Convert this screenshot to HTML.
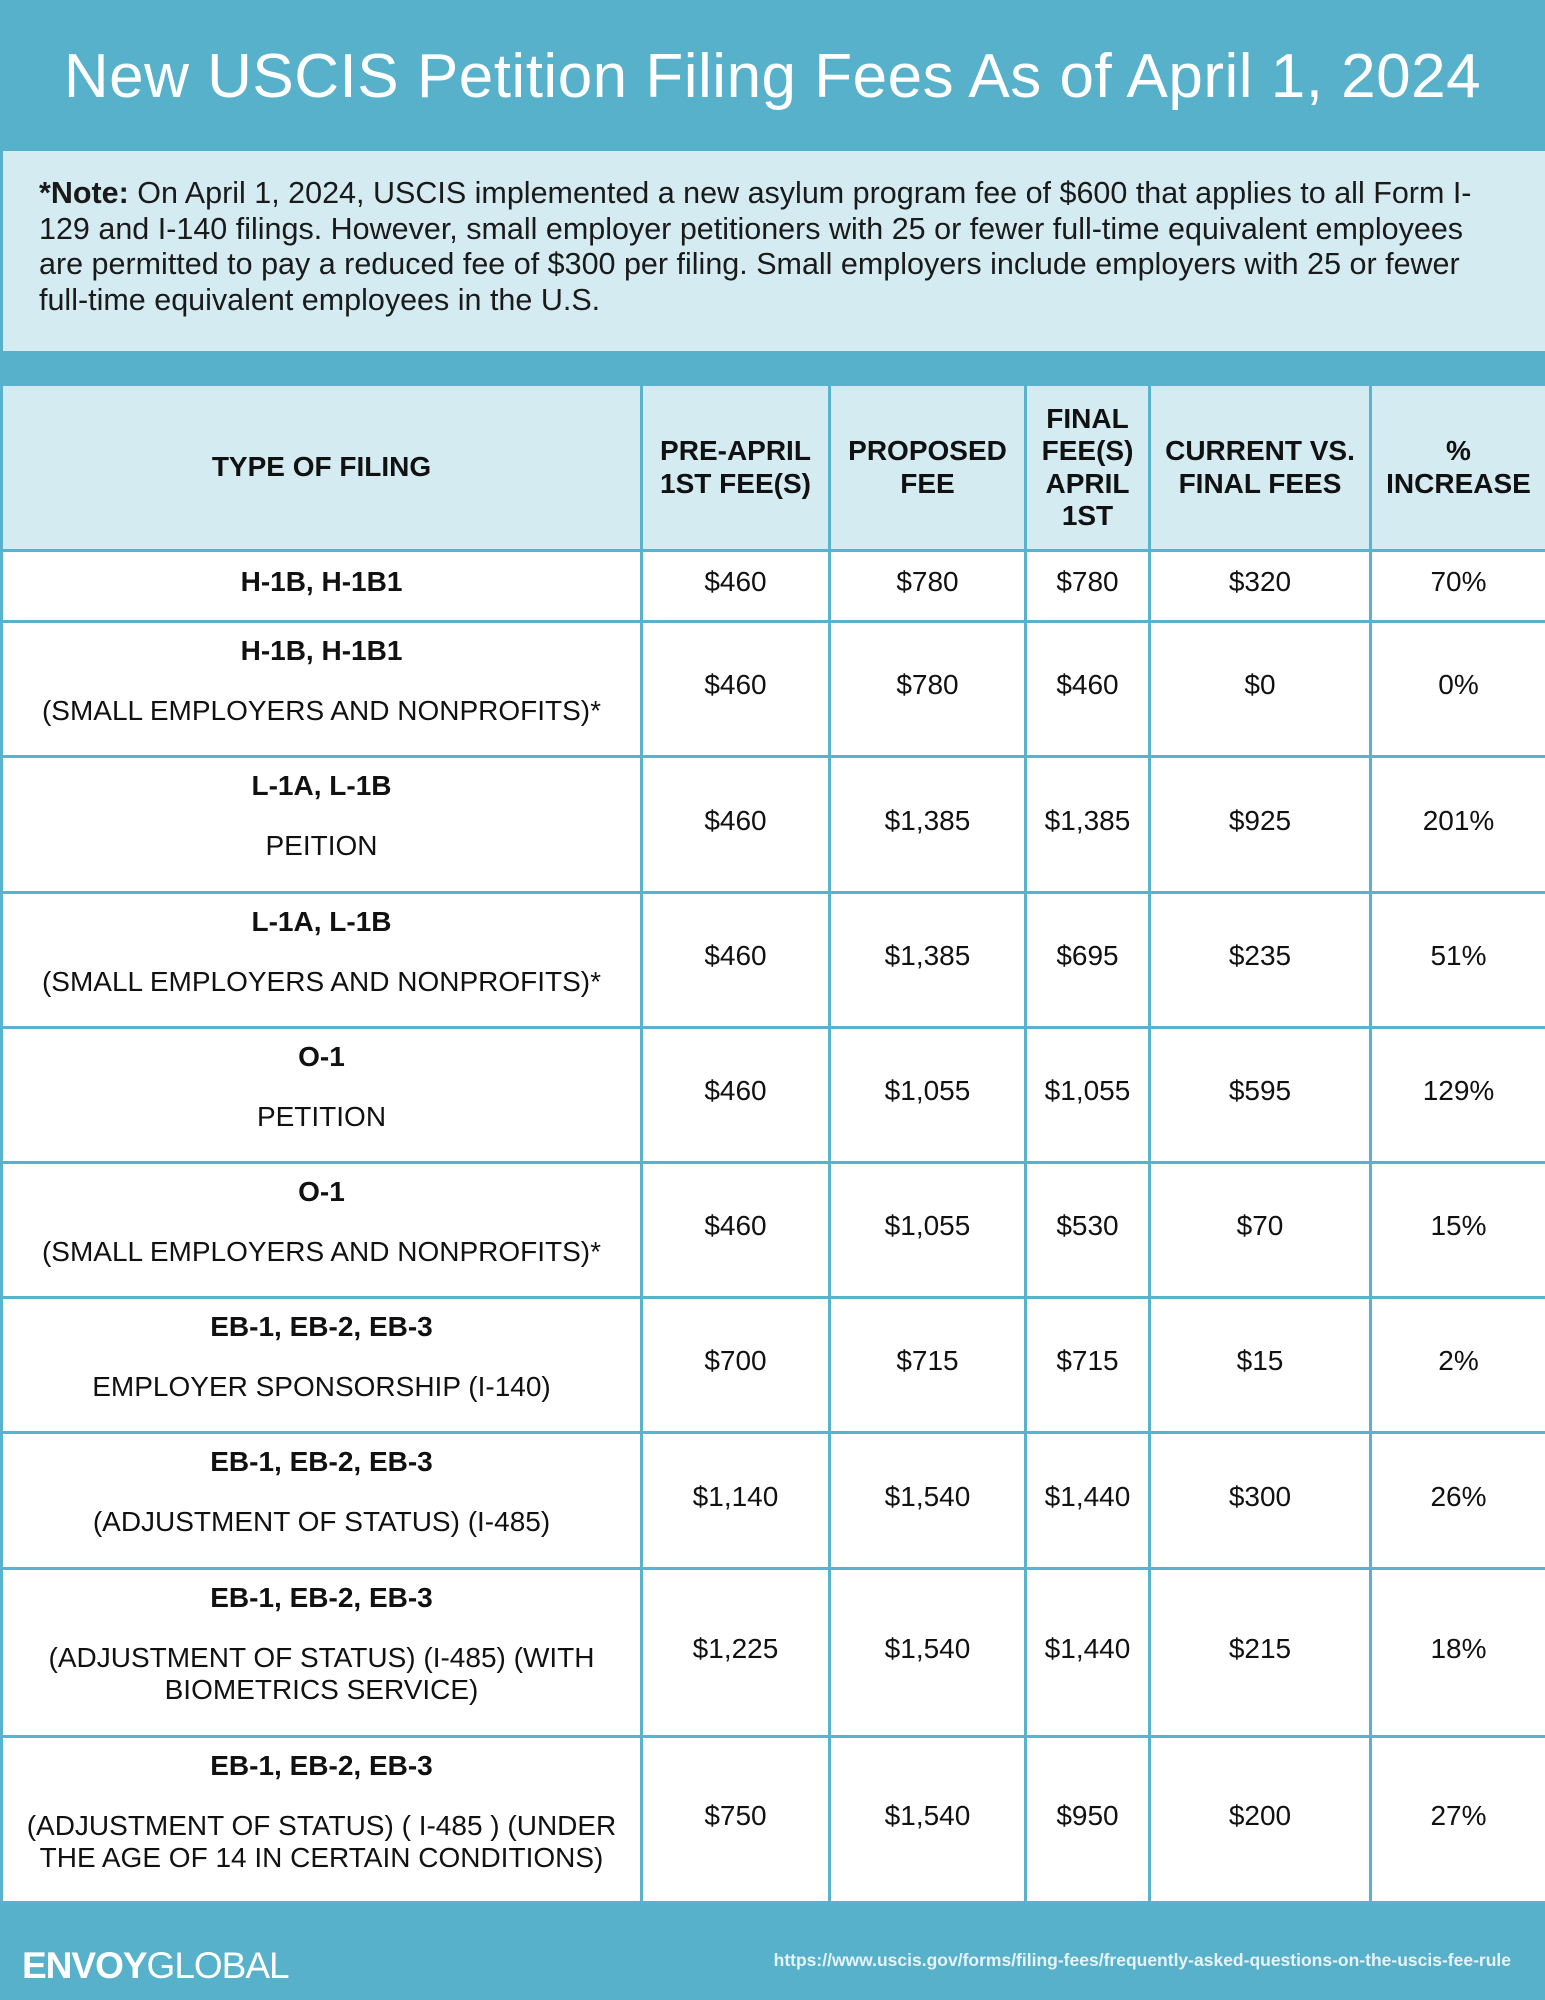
<!DOCTYPE html>
<html><head><meta charset="utf-8"><style>
*{margin:0;padding:0;box-sizing:border-box}
body{width:1545px;height:2000px;background:#57b1cb;font-family:"Liberation Sans",sans-serif;color:#111;position:relative;overflow:hidden}
.title{position:absolute;top:0;left:0;width:1545px;height:150px;line-height:154px;text-align:center;color:#fff;font-size:62px;letter-spacing:0.5px}
.note{position:absolute;top:151px;left:3px;width:1542px;height:200px;background:#d5ebf2;padding:25px 0 0 36px;font-size:30.5px;line-height:35.5px;white-space:nowrap;color:#1a1a1a}
table{position:absolute;top:383px;left:0;width:1545px;border-collapse:collapse;table-layout:fixed}
td{border:3px solid #5ab3cc;background:#fff;text-align:center;vertical-align:middle;font-size:28px;padding:0 0 8px 0}
tr.h td{background:#d5ebf2;font-weight:bold;line-height:32.5px;height:166px;padding:0}
td.f{vertical-align:top;padding-top:10px;line-height:32px}
td.f b{display:block;height:36px;line-height:36px}
td.f span{display:block;margin-top:26px}
.foot{position:absolute;top:1945px;left:22px;color:#fff;font-size:37px;letter-spacing:-1px}
.url{position:absolute;top:1950px;right:34px;color:#e6f3f7;font-size:17.5px;font-weight:bold}
</style></head><body>
<div class="title">New USCIS Petition Filing Fees As of April 1, 2024</div>
<div class="note"><b>*Note:</b> On April 1, 2024, USCIS implemented a new asylum program fee of $600 that applies to all Form I-<br>129 and I-140 filings. However, small employer petitioners with 25 or fewer full-time equivalent employees<br>are permitted to pay a reduced fee of $300 per filing. Small employers include employers with 25 or fewer<br>full-time equivalent employees in the U.S.</div>
<table>
<colgroup><col style="width:640px"><col style="width:188px"><col style="width:196px"><col style="width:124px"><col style="width:221px"><col style="width:176px"></colgroup>
<tr class="h"><td>TYPE OF FILING</td><td>PRE-APRIL<br>1ST FEE(S)</td><td>PROPOSED<br>FEE</td><td>FINAL<br>FEE(S)<br>APRIL<br>1ST</td><td>CURRENT VS.<br>FINAL FEES</td><td>%<br>INCREASE</td></tr>
<tr style="height:71px"><td><b>H-1B, H-1B1</b></td><td>$460</td><td>$780</td><td>$780</td><td>$320</td><td>70%</td></tr>
<tr style="height:135px"><td class="f"><b>H-1B, H-1B1</b><span>(SMALL EMPLOYERS AND NONPROFITS)*</span></td><td>$460</td><td>$780</td><td>$460</td><td>$0</td><td>0%</td></tr>
<tr style="height:136px"><td class="f"><b>L-1A, L-1B</b><span>PEITION</span></td><td>$460</td><td>$1,385</td><td>$1,385</td><td>$925</td><td>201%</td></tr>
<tr style="height:135px"><td class="f"><b>L-1A, L-1B</b><span>(SMALL EMPLOYERS AND NONPROFITS)*</span></td><td>$460</td><td>$1,385</td><td>$695</td><td>$235</td><td>51%</td></tr>
<tr style="height:135px"><td class="f"><b>O-1</b><span>PETITION</span></td><td>$460</td><td>$1,055</td><td>$1,055</td><td>$595</td><td>129%</td></tr>
<tr style="height:135px"><td class="f"><b>O-1</b><span>(SMALL EMPLOYERS AND NONPROFITS)*</span></td><td>$460</td><td>$1,055</td><td>$530</td><td>$70</td><td>15%</td></tr>
<tr style="height:135px"><td class="f"><b>EB-1, EB-2, EB-3</b><span>EMPLOYER SPONSORSHIP (I-140)</span></td><td>$700</td><td>$715</td><td>$715</td><td>$15</td><td>2%</td></tr>
<tr style="height:136px"><td class="f"><b>EB-1, EB-2, EB-3</b><span>(ADJUSTMENT OF STATUS) (I-485)</span></td><td>$1,140</td><td>$1,540</td><td>$1,440</td><td>$300</td><td>26%</td></tr>
<tr style="height:168px"><td class="f"><b>EB-1, EB-2, EB-3</b><span>(ADJUSTMENT OF STATUS) (I-485) (WITH<br>BIOMETRICS SERVICE)</span></td><td>$1,225</td><td>$1,540</td><td>$1,440</td><td>$215</td><td>18%</td></tr>
<tr style="height:166px"><td class="f"><b>EB-1, EB-2, EB-3</b><span>(ADJUSTMENT OF STATUS) ( I-485 ) (UNDER<br>THE AGE OF 14 IN CERTAIN CONDITIONS)</span></td><td>$750</td><td>$1,540</td><td>$950</td><td>$200</td><td>27%</td></tr>
</table>
<div class="foot"><b>ENVOY</b>GLOBAL</div>
<div class="url">https://www.uscis.gov/forms/filing-fees/frequently-asked-questions-on-the-uscis-fee-rule</div>
</body></html>
